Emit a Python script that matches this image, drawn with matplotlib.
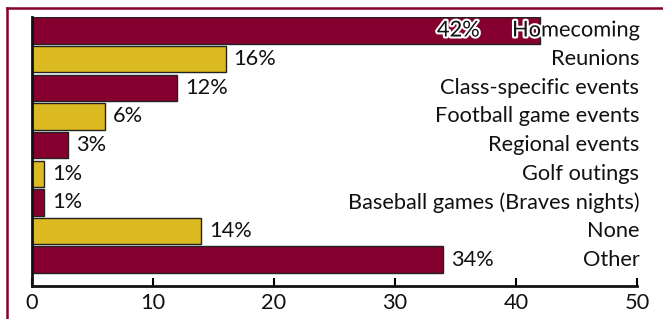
import matplotlib
matplotlib.use("Agg")
import matplotlib.pyplot as plt
import matplotlib.patheffects as pe
from matplotlib.lines import Line2D

plt.rcParams["font.family"] = ["Lato", "DejaVu Sans"]

categories = ["Homecoming", "Reunions", "Class-specific events", "Football game events",
              "Regional events", "Golf outings", "Baseball games (Braves nights)", "None", "Other"]
values = [42, 16, 12, 6, 3, 1, 1, 14, 34]
MAROON = "#86002f"
GOLD = "#dcba21"
colors = [MAROON if i % 2 == 0 else GOLD for i in range(len(values))]

W, H = 663, 319
fig = plt.figure(figsize=(W / 100, H / 100), dpi=100)
ax = fig.add_axes([32 / W, 1 - 286 / H, (637 - 32) / W, (286 - 17) / H])

ypos = list(range(len(values)))
ax.barh(ypos, values, height=0.92, color=colors, edgecolor="#222222", linewidth=1.0, zorder=2)
ax.set_ylim(8.92, -0.47)
ax.set_xlim(0, 50)

halo = [pe.withStroke(linewidth=3, foreground="white")]
fs = 15.7
for i, (cat, v) in enumerate(zip(categories, values)):
    ax.text(50.2, i, cat, ha="right", va="center", fontsize=fs, color="#111111",
            path_effects=halo if v > 38 else None, zorder=3)
    if v > 38:
        ax.text(v - 5, i, f"{v}%", ha="right", va="center", fontsize=fs,
                color="#111111", path_effects=halo, zorder=3)
    else:
        ax.text(v + 0.65, i, f"{v}%", ha="left", va="center", fontsize=fs,
                color="#111111", zorder=3)

ax.set_xticks([0, 10, 20, 30, 40, 50])
ax.tick_params(axis="x", direction="in", length=6, width=1.5, labelsize=fs, pad=5,
               labelcolor="#111111")
ax.set_yticks([])
for s in ("top", "right"):
    ax.spines[s].set_visible(False)
for s in ("left", "bottom"):
    ax.spines[s].set_linewidth(2)
    ax.spines[s].set_color("#111111")

# outer frame (cropped at right/bottom)
fig.add_artist(Line2D([7 / W, 1.0], [1 - 8 / H, 1 - 8 / H], color=MAROON, lw=1.8,
                      transform=fig.transFigure))
fig.add_artist(Line2D([7 / W, 7 / W], [1 - 8 / H, 0], color=MAROON, lw=1.8,
                      transform=fig.transFigure))

fig.savefig("out.png", dpi=100)
